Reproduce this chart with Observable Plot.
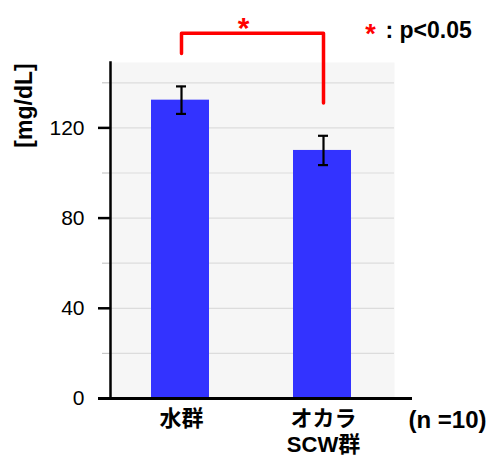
<!DOCTYPE html>
<html>
<head>
<meta charset="utf-8">
<script src="https://cdn.jsdelivr.net/npm/d3@7"></script>
<script src="https://cdn.jsdelivr.net/npm/@observablehq/plot@0.6"></script>
<style>
  html, body { margin: 0; padding: 0; background: white; }
</style>
</head>
<body>
<div id="chart"></div>
<script>
const groups = ["水群", "オカラ\nSCW群"];
const means = [132.3, 110.0];
const errors = [6.1, 6.5];
const yTicks = [0, 40, 80, 120];
const gridTicks = [20, 40, 60, 80, 100, 120, 140];
const minorTicks = [20, 60, 100, 140];
const bracketY = [153, 162, 162, 131];
const bracketX = [groups[0], groups[0], groups[1], groups[1]];
const starY = 164;
const yLabel = "[mg/dL]";
const nLabel = "(n =10)";
const legendText = ": p<0.05";

const data = groups.map((g, i) => ({group: g, mean: means[i], err: errors[i]}));
const bracket = bracketX.map((x, i) => ({x, y: bracketY[i]}));

const font = "'Liberation Sans', 'Noto Sans CJK JP', sans-serif";

const chart = Plot.plot({
  width: 491,
  height: 459,
  marginLeft: 110,
  marginRight: 97,
  marginTop: 62,
  marginBottom: 61,
  style: {fontFamily: font, background: "white", color: "black", overflow: "visible"},
  x: {domain: groups, padding: 0, label: null, axis: null},
  y: {domain: [0, 149], label: null, axis: null},
  marks: [
    Plot.frame({fill: "#f6f6f6", stroke: "none"}),
    Plot.ruleY(gridTicks, {stroke: "#dcdcdc", strokeWidth: 1.2}),
    Plot.ruleY(minorTicks, {stroke: "#c8c8c8", strokeWidth: 1.2, insetLeft: -8, insetRight: 284}),
    Plot.barY(data, {x: "group", y: "mean", fill: "#3333ff", insetLeft: 41, insetRight: 43}),
    Plot.ruleX(data, {x: "group", y1: d => d.mean - d.err, y2: d => d.mean + d.err, stroke: "black", strokeWidth: 2.2}),
    Plot.tickY(data, {x: "group", y: d => d.mean - d.err, stroke: "black", strokeWidth: 2.2, insetLeft: 66, insetRight: 66}),
    Plot.tickY(data, {x: "group", y: d => d.mean + d.err, stroke: "black", strokeWidth: 2.2, insetLeft: 66, insetRight: 66}),
    Plot.axisY({ticks: yTicks, tickSize: 12, tickPadding: 14, fontSize: 21, strokeWidth: 2.5, label: null}),
    Plot.axisX({tickSize: 0, tickPadding: 9, fontSize: 22, fontWeight: "bold", label: null, lineAnchor: "top", lineHeight: 1.18}),
    Plot.ruleY([0], {stroke: "black", strokeWidth: 3, insetLeft: -12, insetRight: -18}),
    Plot.frame({anchor: "left", stroke: "black", strokeWidth: 2.5}),
    Plot.line(bracket, {x: "x", y: "y", stroke: "#ff0000", strokeWidth: 3.5, curve: "linear"}),
    Plot.text(["*"], {x: () => groups[0], y: () => starY, text: d => d, fill: "#ff0000", fontSize: 30, fontWeight: "bold", dx: 62}),
    Plot.text(["*"], {frameAnchor: "top-right", text: d => d, fill: "#ff0000", fontSize: 27, fontWeight: "bold", textAnchor: "middle", lineAnchor: "middle", dx: -24, dy: -28}),
    Plot.text([legendText], {frameAnchor: "top-right", text: d => d, fill: "black", fontSize: 23, fontWeight: "bold", textAnchor: "start", lineAnchor: "middle", dx: -9, dy: -32}),
    Plot.text([nLabel], {frameAnchor: "bottom-right", text: d => d, fill: "black", fontSize: 24, fontWeight: "bold", textAnchor: "start", lineAnchor: "middle", dx: 14, dy: 22}),
    Plot.text([yLabel], {frameAnchor: "top-left", text: d => d, fill: "black", fontSize: 23, fontWeight: "bold", rotate: -90, textAnchor: "middle", lineAnchor: "middle", dx: -86, dy: 43})
  ]
});
document.getElementById("chart").appendChild(chart);
</script>
</body>
</html>
